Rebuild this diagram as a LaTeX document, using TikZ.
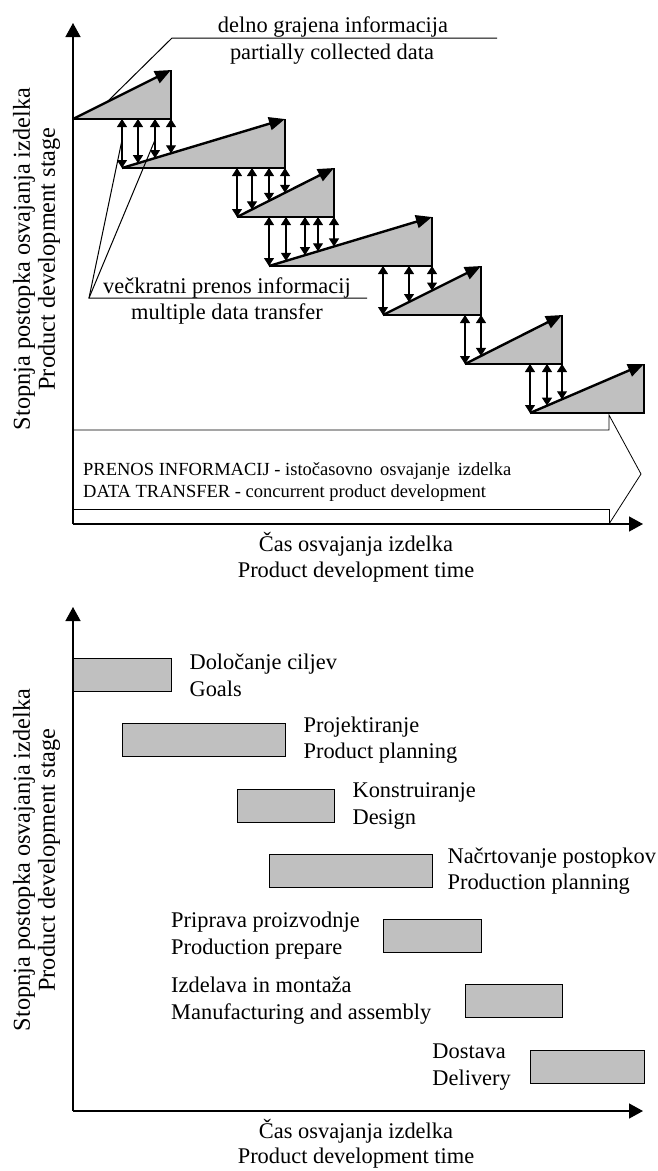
\documentclass[tikz,border=0pt]{standalone}
\usepackage{fontspec}
\setmainfont{Liberation Serif}
\usetikzlibrary{arrows.meta,calc}
\definecolor{stagegray}{HTML}{C0C0C0}

% one stage of the staircase: grey wedge with its rising arrow
\newcommand\stagewedge[4]{% #1 name, #2 left x, #3 right x, #4 base y
  \coordinate (#1L) at (#2,#4);
  \coordinate (#1R) at (#3,#4);
  \coordinate (#1T) at (#3,#4-49);
  \fill[stagegray] (#1L) -- (#1R) -- (#1T) -- cycle;
  \draw[wedgeedge] (#1L) -- (#1R) -- (#1T);
  \draw[flow] (#1L) -- (#1T);
}
% double arrows from the base of one stage down to the slope of the next
\newcommand\transferset[5]{% #1 top y, #2 left x, #3 base y, #4 right x, #5 list of x
  \foreach \px in {#5} {%
    \pgfmathsetmacro\py{#3-(\px-#2)/(#4-#2)*(#3-#1)}%
    \coordinate (xs) at (\px,#1);
    \coordinate (xe) at (\px,\py);
    \draw[xfer] (xs) -- (xe);
  }}

\begin{document}
\begin{tikzpicture}[x=1pt,y=-1pt,
  lbl/.style={inner sep=0pt, font=\fontsize{22.4}{26.5}\selectfont},
  lblL/.style={lbl, align=left},
  sidelbl/.style={inner sep=0pt, align=center, rotate=90, font=\fontsize{24.3}{25}\selectfont},
  bandtxt/.style={inner sep=0pt, anchor=base west, font=\fontsize{18.5}{22}\selectfont},
  axis/.style={line width=1.4pt, -{Triangle[length=14pt,width=15pt]}},
  wedgeedge/.style={line width=1.4pt},
  flow/.style={line width=2.4pt, -{Triangle[length=16pt,width=13pt]}},
  xfer/.style={line width=1.1pt, {Triangle[length=8pt,width=10pt]}-{Triangle[length=8pt,width=10pt]}},
  leader/.style={line width=1pt},
  band/.style={line width=0.8pt},
  bar/.style={fill=stagegray, draw=black, line width=1.4pt, minimum height=33pt, inner sep=0pt, anchor=north west},
]
\useasboundingbox (0,0) rectangle (658,1171);

% ---------------- upper chart: concurrent development ----------------
\coordinate (O1) at (73,524);
\coordinate (Y1) at (73,23);
\coordinate (X1) at (643,524);

% arrow-shaped band along the time axis
\coordinate (bTL) at (73,430);
\coordinate (bTR) at (609,430);
\coordinate (wTop) at (609,415);
\coordinate (bTip) at (641,474);
\coordinate (wBot) at (609,524);
\coordinate (bBL) at (73,509);
\coordinate (bBR) at (609,509);
\draw[band] (bTL) -- (bTR) -- (wTop) -- (bTip) -- (wBot);
\draw[band] (bBL) -- (bBR) -- (wBot);
\node[bandtxt] (bandA) at (83,475) {PRENOS INFORMACIJ - istočasovno\, osvajanje\, izdelka};
\node[bandtxt] (bandB) at (83,497) {DATA TRANSFER - concurrent product development};

\draw[axis] (O1) -- (Y1);
\draw[axis] (O1) -- (X1);

% stages
\stagewedge{A}{73}{171}{119}
\stagewedge{B}{122}{285}{168}
\stagewedge{C}{237}{334}{217}
\stagewedge{D}{269}{432}{266}
\stagewedge{E}{383}{481}{315}
\stagewedge{F}{465}{562}{364}
\stagewedge{G}{530}{644}{413}

% information transfers between stages
\transferset{119}{122}{168}{285}{122,138,155,171}
\transferset{168}{237}{217}{334}{237,252,269,285}
\transferset{217}{269}{266}{432}{269,286,305,318,334}
\transferset{266}{383}{315}{481}{383,409,432}
\transferset{315}{465}{364}{562}{465,481}
\transferset{364}{530}{413}{644}{530,547,562}

% label: partially collected data
\coordinate (pcEnd) at (497,38);
\coordinate (pcKnee) at (172,38);
\coordinate (pcHit) at (107,102);
\draw[leader] (pcEnd) -- (pcKnee) -- (pcHit);
\node[lbl, anchor=base] (pcA) at (333,32) {delno grajena informacija};
\node[lbl, anchor=base] (pcB) at (332,59) {partially collected data};

% label: multiple data transfer
\coordinate (mtRoot) at (89,298);
\coordinate (mtEnd) at (367,298);
\coordinate (mtHit1) at (122,140);
\coordinate (mtHit2) at (155,140);
\draw[leader] (mtEnd) -- (mtRoot) -- (mtHit1);
\draw[leader] (mtRoot) -- (mtHit2);
\node[lbl, anchor=base] (mtA) at (227,293) {večkratni prenos informacij};
\node[lbl, anchor=base] (mtB) at (227,319) {multiple data transfer};

% axis titles
\node[sidelbl] (ya1) at (36.5,259) {Stopnja postopka osvajanja izdelka\\Product development stage};
\node[lbl, anchor=base] (xa1) at (356,551) {Čas osvajanja izdelka};
\node[lbl, anchor=base] (xb1) at (356,577) {Product development time};

% ---------------- lower chart: phases ----------------
\coordinate (O2) at (73,1111);
\coordinate (Y2) at (73,607);
\coordinate (X2) at (643,1111);
\draw[axis] (O2) -- (Y2);
\draw[axis] (O2) -- (X2);

\node[bar, minimum width=98pt]  (p1) at (73,658)  {};
\node[bar, minimum width=163pt] (p2) at (122,723) {};
\node[bar, minimum width=97pt]  (p3) at (237,789) {};
\node[bar, minimum width=163pt] (p4) at (269,854) {};
\node[bar, minimum width=98pt]  (p5) at (383,919) {};
\node[bar, minimum width=97pt]  (p6) at (465,984) {};
\node[bar, minimum width=114pt] (p7) at (530,1050) {};

\node[lblL, anchor=west] (t1) at ($(p1.east)+(17,0)$) {Določanje ciljev\\Goals};
\node[lblL, anchor=west] (t2) at ($(p2.east)+(17,0)$) {Projektiranje\\Product planning};
\node[lblL, anchor=west] (t3) at ($(p3.east)+(17,0)$) {Konstruiranje\\Design};
\node[lblL, anchor=west] (t4) at ($(p4.east)+(14,0)$) {Načrtovanje postopkov\\Production planning};
\node[lblL, anchor=west] (t5) at (171,935.5) {Priprava proizvodnje\\Production prepare};
\node[lblL, anchor=west] (t6) at (171,1000.5) {Izdelava in montaža\\Manufacturing and assembly};
\node[lblL, anchor=east] (t7) at ($(p7.west)+(-19,0)$) {Dostava\\Delivery};

\node[sidelbl] (ya2) at (36.5,860) {Stopnja postopka osvajanja izdelka\\Product development stage};
\node[lbl, anchor=base] (xa2) at (356,1138) {Čas osvajanja izdelka};
\node[lbl, anchor=base] (xb2) at (356,1163) {Product development time};

\end{tikzpicture}
\end{document}
